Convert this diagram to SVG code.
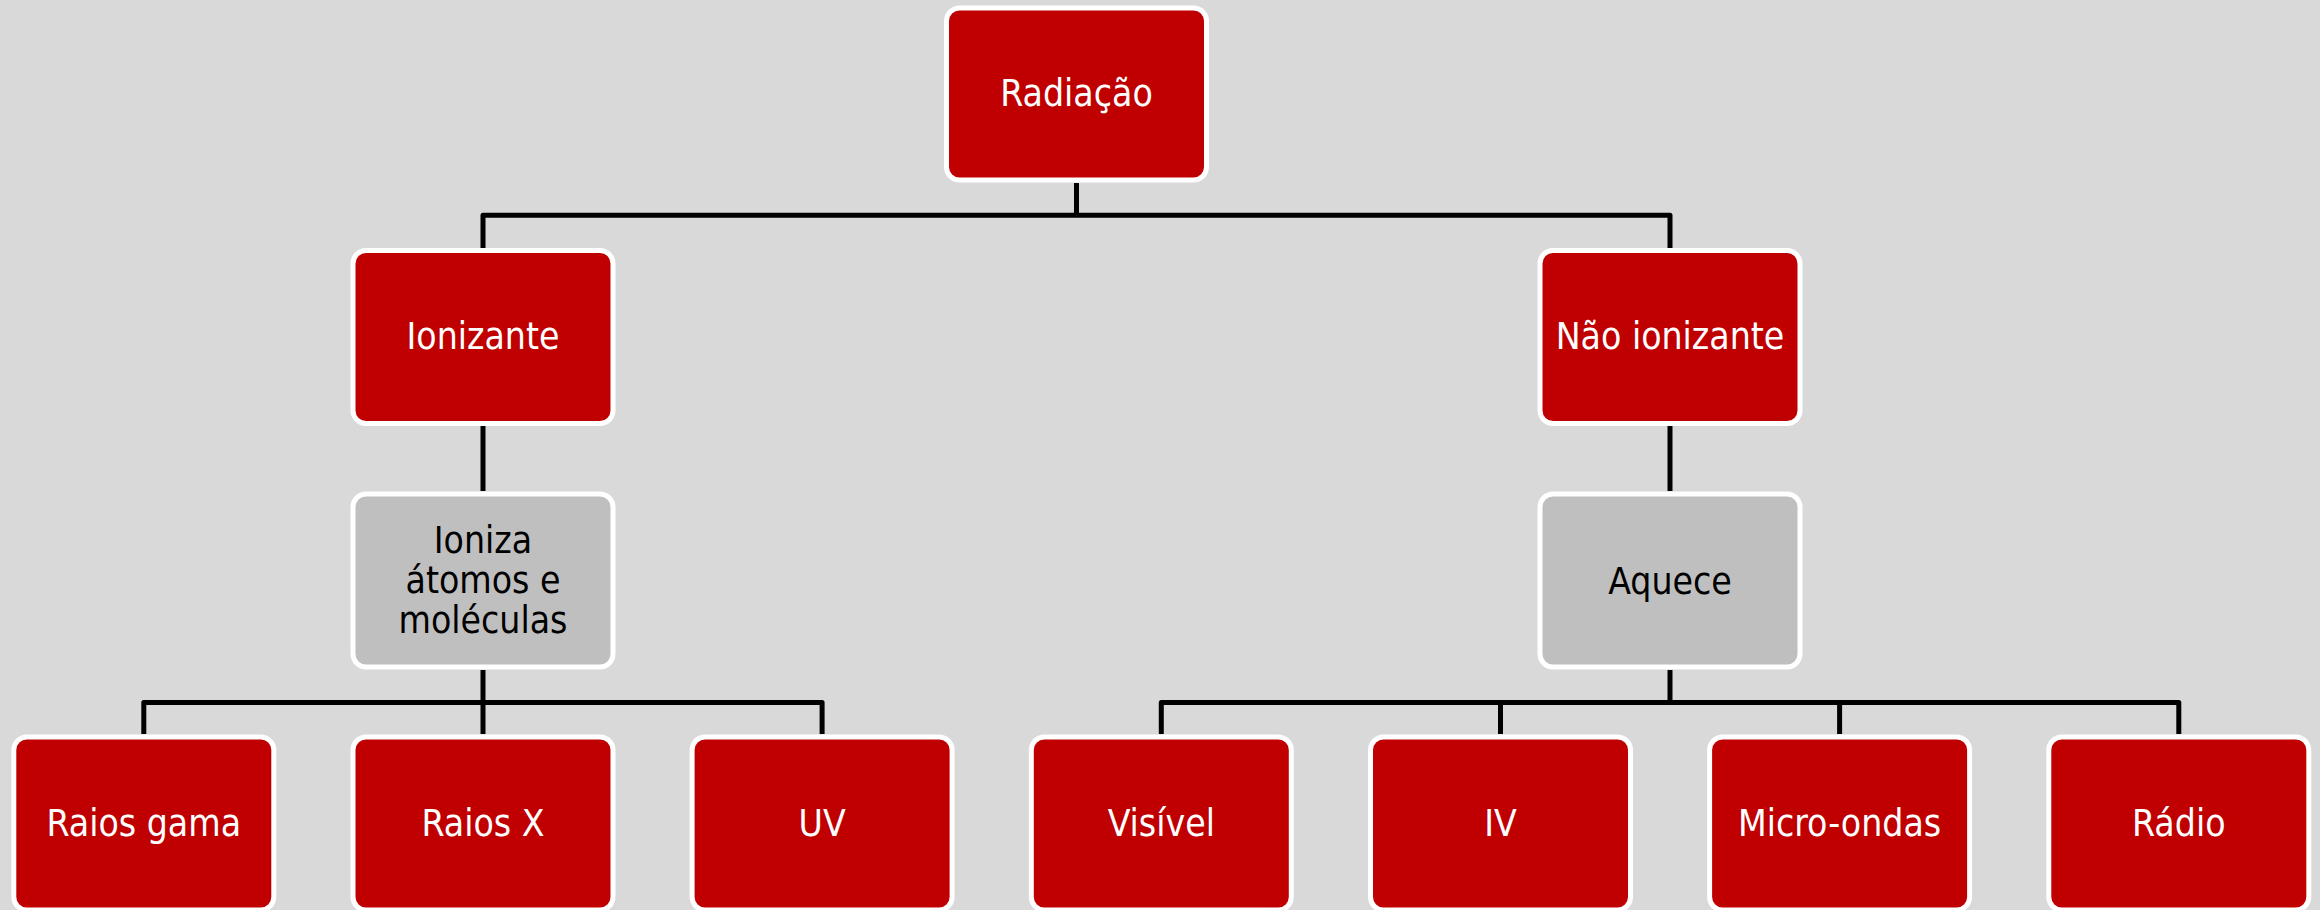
<svg xmlns="http://www.w3.org/2000/svg" width="2320" height="910" viewBox="0 0 2320 910">
<style>
.bg{fill:#D9D9D9}
.n rect{stroke:#FFFFFF;stroke-width:5}
.red rect{fill:#C00000}
.gray rect{fill:#BFBFBF}
.n text{font-family:"DejaVu Sans Condensed","DejaVu Sans",sans-serif;font-size:37px;text-anchor:middle;font-stretch:condensed}
.red text{fill:#FFFFFF}
.gray text{fill:#000000}
#connectors path{fill:none;stroke:#000000;stroke-width:5;stroke-linejoin:round}
</style>
<rect class="bg" x="0" y="0" width="2320" height="910"/>
<g id="connectors">
<path d="M1076.5 183 V215.3"/>
<path d="M483 248 V215.3 H1670 V248"/>
<path d="M483 426 V491"/>
<path d="M1670 426 V491"/>
<path d="M483 670 V702.5"/>
<path d="M143.8 734 V702.5 H822.1 V734"/>
<path d="M483 702.5 V734"/>
<path d="M1670 670 V702.5"/>
<path d="M1161.3 734 V702.5 H2178.8 V734"/>
<path d="M1500.5 702.5 V734"/>
<path d="M1839.6 702.5 V734"/>
</g>
<g id="radiacao" class="n red"><rect x="946.5" y="8" width="260" height="172" rx="13"/><text x="1076.5" y="106">Radiação</text></g>
<g id="ionizante" class="n red"><rect x="353" y="250.5" width="260" height="173" rx="13"/><text x="483" y="349">Ionizante</text></g>
<g id="nao-ionizante" class="n red"><rect x="1540" y="250.5" width="260" height="173" rx="13"/><text x="1670" y="349">Não ionizante</text></g>
<g id="ioniza" class="n gray"><rect x="353" y="494" width="260" height="173" rx="13"/><text x="483" y="552.7">Ioniza</text><text x="483" y="592.7">átomos e</text><text x="483" y="632.7">moléculas</text></g>
<g id="aquece" class="n gray"><rect x="1540" y="494" width="260" height="173" rx="13"/><text x="1670" y="594">Aquece</text></g>
<g id="raios-gama" class="n red"><rect x="13.8" y="737" width="260" height="173" rx="13"/><text x="143.8" y="836">Raios gama</text></g>
<g id="raios-x" class="n red"><rect x="353" y="737" width="260" height="173" rx="13"/><text x="483" y="836">Raios X</text></g>
<g id="uv" class="n red"><rect x="692.1" y="737" width="260" height="173" rx="13"/><text x="822.1" y="836">UV</text></g>
<g id="visivel" class="n red"><rect x="1031.3" y="737" width="260" height="173" rx="13"/><text x="1161.3" y="836">Visível</text></g>
<g id="iv" class="n red"><rect x="1370.5" y="737" width="260" height="173" rx="13"/><text x="1500.5" y="836">IV</text></g>
<g id="micro-ondas" class="n red"><rect x="1709.6" y="737" width="260" height="173" rx="13"/><text x="1839.6" y="836">Micro-ondas</text></g>
<g id="radio" class="n red"><rect x="2048.8" y="737" width="260" height="173" rx="13"/><text x="2178.8" y="836">Rádio</text></g>
</svg>
